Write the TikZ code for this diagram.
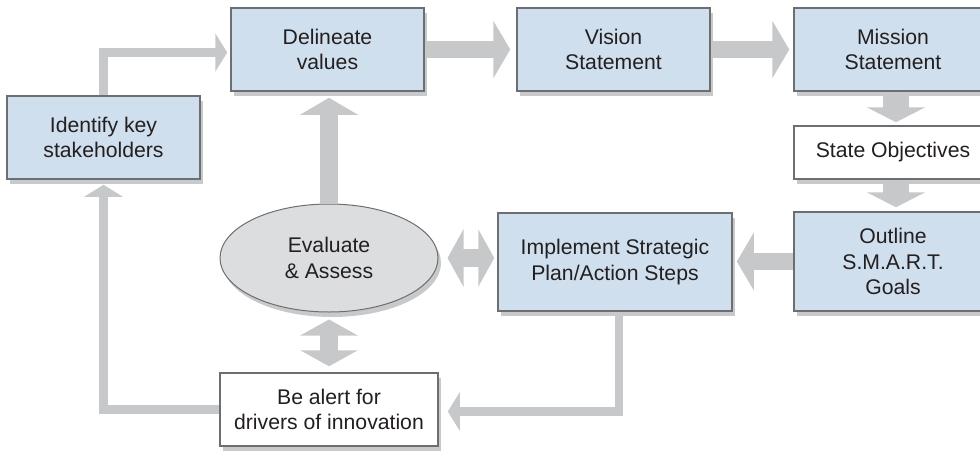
\documentclass[tikz,border=0pt]{standalone}
\usepackage{fontspec}
\setmainfont{Liberation Sans}
\usetikzlibrary{arrows.meta,shapes.geometric,shadows}

\definecolor{bleu}{HTML}{CFDFEE}
\definecolor{ombre}{HTML}{C8C9CB}
\definecolor{fleche}{HTML}{C7C8CA}
\definecolor{bord}{HTML}{6D6E71}
\definecolor{texte}{HTML}{231F20}
\definecolor{ovale}{HTML}{DCDDDF}

\begin{document}
\begin{tikzpicture}[x=0.5pt,y=-0.5pt,
    font=\fontsize{10.6}{12.6}\selectfont, text=texte,
    boite/.style={draw=bord, line width=0.75pt, fill=bleu, align=center, inner sep=0pt,
        minimum width=96.5pt, minimum height=41.5pt,
        drop shadow={shadow xshift=1.5pt, shadow yshift=-2.5pt, fill=ombre, opacity=1}},
    blanche/.style={boite, fill=white},
    grosse/.style={draw=fleche, line width=8.75pt, -{Triangle[width=28.5pt,length=8.5pt]}},
    bidir/.style={grosse, {Triangle[width=28.5pt,length=8pt]}-{Triangle[width=28.5pt,length=8pt]}},
    fine/.style={draw=fleche, line width=4.25pt, -{Triangle[width=19pt,length=6pt]}}]
    \clip (0,0) rectangle (980,451); % Cadre

    % Rangée du haut
    \node[boite] (ident) at (103.5,137.5) {Identify key\\stakeholders};
    \node[boite] (delin) at (327.5,49.5) {Delineate\\values};
    \node[boite] (vision) at (613.5,49.5) {Vision\\Statement};
    \node[boite, minimum width=99pt] (mission) at (893,49.5) {Mission\\Statement};

    % Colonne de droite
    \node[blanche, minimum width=99pt, minimum height=26.5pt] (state) at (893,152.5) {State Objectives};
    \node[boite, minimum width=99pt, minimum height=49.5pt] (outline) at (893,261.5) {Outline\\S.M.A.R.T.\\Goals};

    % Rangée du bas
    \node[boite, minimum width=117pt, minimum height=49pt] (impl) at (615,262) {Implement Strategic\\Plan/Action Steps};
    \node[boite, ellipse, fill=ovale, line width=0.5pt, minimum width=109pt, minimum height=54pt] (eval) at (329,258) {Evaluate\\\& Assess};
    \node[blanche, minimum width=109pt, minimum height=36.5pt] (alert) at (329,409.5) {Be alert for\\drivers of innovation};

    % Grosses flèches
    \draw[grosse, shorten >=3pt] (delin.east) -- (vision.west);
    \draw[grosse, shorten >=2pt] (vision.east) -- (mission.west);
    \draw[grosse, line width=13pt, -{Triangle[width=29pt,length=7.5pt]}, shorten >=1.5pt]
        ([xshift=1.5pt]mission.south) -- ([xshift=1.5pt]state.north);
    \draw[grosse, line width=13pt, -{Triangle[width=29pt,length=7.5pt]}, shorten >=2pt]
        ([xshift=1.5pt]state.south) -- ([xshift=1.5pt]outline.north);
    \draw[grosse, shorten >=2pt] (outline.west) -- (outline.west -| impl.east);
    \draw[grosse, shorten >=3pt] (eval.north) -- (eval.north |- delin.south);
    \draw[bidir, shorten <=4.5pt, shorten >=1.5pt] (eval.east) -- (eval.east -| impl.west);
    \draw[bidir, shorten <=3.5pt, shorten >=3pt] (eval.south) -- (eval.south |- alert.north);

    % Flèches fines
    \draw[fine, shorten >=1.5pt] (ident.north) |- ([yshift=-1.5pt]delin.west);
    \draw[fine, shorten >=4.5pt] ([xshift=2pt]impl.south) |- ([yshift=-1pt]alert.east);
    \draw[fine, shorten >=2.5pt] (alert.west) -| (ident.south);
\end{tikzpicture}
\end{document}
